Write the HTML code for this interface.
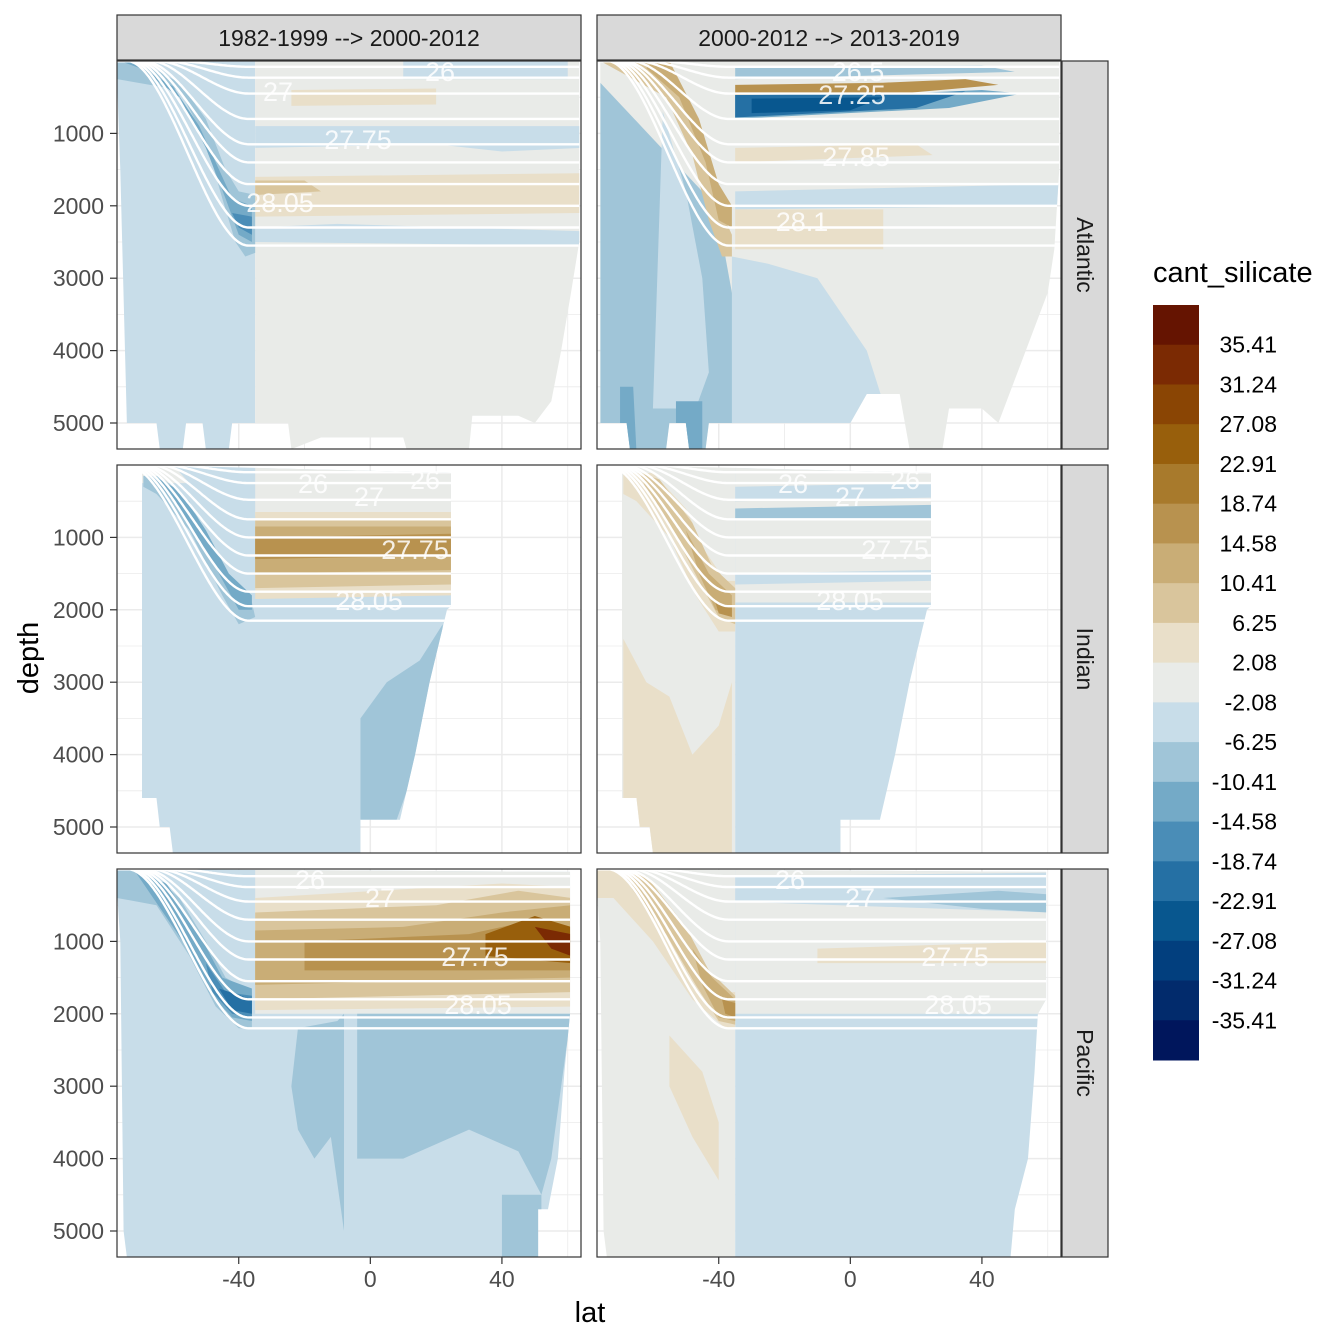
<!DOCTYPE html>
<html><head><meta charset="utf-8"><style>
html,body{margin:0;padding:0;background:#fff}
svg{display:block;font-family:"Liberation Sans",sans-serif}
</style></head><body>
<svg id="chart" width="1344" height="1344" viewBox="0 0 1344 1344"></svg>
<script>
const legendColors=["#651401","#7b2a03","#8a4504","#985f0c","#a87a2c","#b8924f","#c9ad76","#d9c59c","#e9dfc9","#e9ebe8","#c8dde9","#a0c5d8","#74aac7","#4a8db7","#2570a4","#08578f","#023f7e","#022b6c","#00165c"];
const legendLabels=["35.41","31.24","27.08","22.91","18.74","14.58","10.41","6.25","2.08","-2.08","-6.25","-10.41","-14.58","-18.74","-22.91","-27.08","-31.24","-35.41"];
const latTicks=[-40,0,40];
const depthTicks=[1000,2000,3000,4000,5000];
const colTitles=["1982-1999 --> 2000-2012","2000-2012 --> 2013-2019"];
const rowTitles=["Atlantic","Indian","Pacific"];
const bathyAtl=[[-77,250],[-76,1500],[-74,5000],[-65,5000],[-64,5360],[-57,5360],[-56,5000],[-51,5000],[-50,5360],[-43,5360],[-42,5000],[-25,5000],[-24,5360],[-15,5200],[10,5200],[11,5360],[30,5360],[31,4900],[45,4900],[50,5000],[55,4700],[58,4000],[61,3200],[63.5,2500],[63.5,0]];
const bathyAtl2=[[-76,200],[-76,5000],[-68,5000],[-67,5360],[-56,5360],[-55,5000],[-50,5000],[-49,5360],[-44,5360],[-43,5000],[0,5000],[5,4600],[15,4600],[18,5360],[28,5360],[30,4800],[40,4800],[45,5000],[50,4400],[55,3800],[60,3200],[62,2600],[63.5,1500],[63.5,0]];
const bathyInd=[[-69.4,110],[-69.4,4600],[-65,4600],[-64,5000],[-61,5000],[-60,5360],[-3,5360],[-3,4900],[9,4900],[13.6,4000],[18,3000],[23.3,2000],[24.5,1950],[24.5,110]];
const bathyPac=[[-77,40],[-77,300],[-76,1000],[-75,5000],[-74,5360],[51,5360],[51,4700],[54,4700],[57,4000],[59,2800],[60.7,2000],[60.7,40]];
const bathyPac2=[[-77,40],[-77,300],[-76,1000],[-75,5000],[-74,5360],[48.7,5360],[50,4700],[54,4000],[56,2800],[57,2000],[59.5,1800],[59.5,40]];
const regionsP1=[[-1,[[-77,0],[-35,0],[-35,5400],[-77,5400]]],[0,[[-35,0],[64,0],[64,5400],[-35,5400]]],
[-1,[[10,0],[60,0],[60,250],[10,250]]],
[-1,[[-35,900],[64,900],[64,1200],[40,1250],[20,1150],[-35,1200]]],
[-1,[[-35,2300],[-10,2250],[64,2350],[64,2550],[-35,2500]]],
[1,[[-35,1600],[64,1550],[64,2100],[-35,2150]]],
[2,[[-35,1650],[-20,1650],[-15,1800],[-35,1850]]],
[1,[[-24,400],[20,380],[20,600],[-24,620]]],
[-2,[[-77,0],[-70,0],[-58,300],[-50,800],[-44,1500],[-40,1800],[-35,1850],[-35,2650],[-38,2700],[-41,2500],[-45,1900],[-50,1100],[-58,400],[-77,250]]],
[-3,[[-76,0],[-73,0],[-60,350],[-52,900],[-46,1500],[-42,1900],[-36,2000],[-36,2500],[-40,2400],[-44,1900],[-50,1200],[-58,500],[-70,100]]],
[-4,[[-45,1800],[-42,2100],[-36,2150],[-36,2400],[-40,2300]]]];
const regionsP2=[[0,[[-77,0],[64,0],[64,5400],[-77,5400]]],
[-2,[[-76,300],[-45,1800],[-38,2700],[-36,3200],[-30,4800],[-28,5400],[-76,5400]]],
[-1,[[-36,2700],[-25,2800],[-10,3000],[5,4000],[12,5000],[15,5400],[-36,5400]]],
[-1,[[-60,4800],[-57,700],[-50,1800],[-45,3000],[-43,4300],[-47,4800]]],
[-3,[[-70,4500],[-66,4500],[-65,5400],[-70,5400]]],[-3,[[-53,4700],[-45,4700],[-45,5400],[-53,5400]]],
[2,[[-76,0],[-62,0],[-50,500],[-44,1200],[-40,2000],[-36,2400],[-36,2700],[-39,2700],[-43,2200],[-48,1300],[-56,500],[-70,150]]],
[3,[[-60,0],[-55,0],[-46,800],[-40,1700],[-36,2000],[-36,2300],[-40,2200],[-44,1400],[-52,500],[-62,100]]],
[-2,[[-35,80],[40,60],[50,150],[-35,250]]],
[4,[[-35,330],[10,300],[35,250],[45,330],[15,450],[-35,470]]],
[-3,[[-35,470],[15,450],[40,400],[52,450],[30,650],[-35,800]]],
[-5,[[-35,470],[15,450],[35,420],[20,650],[-35,780]]],
[-6,[[-30,520],[10,500],[0,680],[-30,720]]],
[1,[[-35,1200],[20,1150],[25,1300],[-35,1400]]],
[-1,[[-35,1800],[64,1700],[64,2000],[-35,2050]]],
[1,[[-35,2050],[10,2050],[10,2600],[-35,2600]]]];
const regionsP3=[[-1,[[-77,0],[64,0],[64,5400],[-77,5400]]],
[0,[[-35,0],[30,0],[30,700],[-35,700]]],[0,[[-70,0],[-60,0],[-55,250],[-70,250]]],
[-2,[[-69,150],[-64,150],[-55,500],[-47,1200],[-42,1600],[-36,1900],[-35,2100],[-40,2200],[-45,1800],[-55,900],[-65,400],[-69,300]]],
[-3,[[-66,150],[-58,350],[-50,900],[-43,1500],[-36,1800],[-36,2000],[-40,2000],[-46,1500],[-55,800]]],
[1,[[-35,650],[25,650],[25,1800],[-35,1850]]],[2,[[-35,750],[25,750],[25,1650],[-35,1700]]],
[3,[[-35,850],[25,850],[25,1450],[-35,1500]]],[4,[[-35,1000],[25,950],[25,1250],[-35,1300]]],
[-2,[[-3,4900],[-3,3500],[5,3000],[15,2700],[22,2200],[22,3000],[15,4000],[8,4900]]]];
const regionsP4=[[0,[[-77,0],[-35,0],[-35,5400],[-77,5400]]],[-1,[[-35,0],[64,0],[64,5400],[-35,5400]]],
[0,[[-35,0],[30,0],[30,1900],[-35,1900]]],
[1,[[-69,2400],[-62,3000],[-55,3200],[-48,4000],[-40,3600],[-36,3000],[-36,5400],[-69,5400]]],
[1,[[-69,110],[-60,110],[-50,600],[-44,1200],[-38,1600],[-35,1600],[-35,2300],[-40,2300],[-47,1800],[-55,1000],[-65,500],[-69,400]]],
[2,[[-64,110],[-58,200],[-48,800],[-42,1400],[-35,1700],[-35,2200],[-40,2100],[-46,1600],[-54,900],[-62,350]]],
[3,[[-50,900],[-43,1500],[-36,1800],[-36,2100],[-41,2000],[-46,1500]]],
[4,[[-41,1900],[-36,1950],[-36,2100],[-40,2050]]],
[-1,[[-35,300],[25,250],[25,450],[-35,500]]],[-2,[[-35,600],[25,550],[25,750],[-35,750]]],
[-1,[[-35,1500],[25,1450],[25,1600],[-35,1650]]]];
const regionsP5=[[-1,[[-77,0],[64,0],[64,5400],[-77,5400]]],
[0,[[-35,0],[61,0],[61,2000],[-35,2000]]],
[-2,[[-22,2200],[-10,2100],[-8,2000],[-8,5000],[-12,3700],[-17,4000],[-22,3600],[-24,3000]]],
[-2,[[-4,2000],[61,2000],[58,3000],[55,4000],[52,4500],[45,3900],[30,3600],[10,4000],[-4,4000]]],
[-2,[[40,4500],[52,4500],[52,5400],[40,5400]]],
[-2,[[-77,0],[-68,0],[-58,400],[-50,1000],[-44,1500],[-36,1700],[-36,2200],[-40,2200],[-47,1900],[-55,1200],[-65,500],[-77,400]]],
[-3,[[-72,0],[-62,200],[-52,900],[-45,1500],[-36,1650],[-36,2100],[-42,2050],[-49,1700],[-57,1000],[-66,400]]],
[-4,[[-50,1300],[-44,1700],[-36,1750],[-36,2050],[-42,2000],[-48,1700]]],
[-5,[[-46,1650],[-36,1800],[-36,2000],[-42,1950]]],
[1,[[-35,400],[40,200],[61,250],[61,1900],[-35,1950]]],
[2,[[-35,600],[20,500],[45,300],[61,400],[61,1700],[-35,1800]]],
[3,[[-35,850],[10,800],[40,600],[61,500],[61,1500],[-35,1600]]],
[4,[[-20,1000],[30,900],[50,700],[61,800],[61,1400],[-20,1400]]],
[6,[[35,900],[50,650],[61,800],[61,1300],[35,1200]]],
[8,[[50,800],[61,900],[61,1200],[55,1100]]]];
const regionsP6=[[0,[[-77,0],[-35,0],[-35,5400],[-77,5400]]],[-1,[[-35,0],[64,0],[64,5400],[-35,5400]]],
[0,[[-35,0],[60,0],[60,2000],[-35,2000]]],
[1,[[-55,2300],[-45,2800],[-40,3500],[-40,4300],[-48,3700],[-55,3000]]],
[1,[[-77,0],[-66,0],[-52,700],[-45,1300],[-38,1700],[-35,1700],[-35,2200],[-38,2200],[-48,1800],[-60,1000],[-72,400],[-77,400]]],
[2,[[-70,0],[-62,100],[-50,800],[-43,1400],[-35,1750],[-35,2150],[-40,2100],[-47,1600],[-56,900],[-66,300]]],
[3,[[-48,1100],[-42,1500],[-35,1800],[-35,2100],[-40,2050],[-45,1600]]],
[4,[[-39,1800],[-35,1850],[-35,2050],[-38,2000]]],
[-1,[[-35,100],[60,50],[60,600],[-35,450]]],
[-2,[[10,400],[45,300],[60,350],[60,600],[40,550]]],
[1,[[-10,1100],[60,1000],[60,1300],[-10,1300]]]];
const isoDepthAtl=[80,230,450,800,1150,1400,1700,2000,2300,2550];
const isoDepthInd=[100,250,480,750,1000,1250,1500,1750,1950,2150];
const isoDepthPac=[100,250,450,700,1000,1250,1550,1800,2050,2200];
const isoOutcrop=[-60,-63,-65,-67,-69,-70,-71,-72,-73,-74];

const NS="http://www.w3.org/2000/svg";
const svg=document.getElementById('chart');
function mk(tag,attrs,parent){const e=document.createElementNS(NS,tag);for(const k in attrs)e.setAttribute(k,attrs[k]);(parent||svg).appendChild(e);return e;}
const colX=[117,597], rowY=[61,465,869], PW=464, PH=388;
function xs(c,lat){return colX[c]+(lat+77)*3.29;}
function ys(r,d){return rowY[r]+d*0.0724;}
function colorOf(level){return legendColors[9-level];}
const panels=[
 {r:0,c:0,bathy:bathyAtl,reg:regionsP1,iso:isoDepthAtl},
 {r:0,c:1,bathy:bathyAtl2,reg:regionsP2,iso:isoDepthAtl},
 {r:1,c:0,bathy:bathyInd,reg:regionsP3,iso:isoDepthInd},
 {r:1,c:1,bathy:bathyInd,reg:regionsP4,iso:isoDepthInd},
 {r:2,c:0,bathy:bathyPac,reg:regionsP5,iso:isoDepthPac},
 {r:2,c:1,bathy:bathyPac2,reg:regionsP6,iso:isoDepthPac}];
const labels=[
 [[440,72,"26"],[278,92,"27"],[358,140,"27.75"],[280,203,"28.05"]],
 [[858,72,"26.5"],[852,95,"27.25"],[856,157,"27.85"],[802,222,"28.1"]],
 [[313,484,"26"],[369,497,"27"],[425,480,"26"],[415,550,"27.75"],[369,601,"28.05"]],
 [[793,484,"26"],[850,497,"27"],[905,480,"26"],[895,550,"27.75"],[850,601,"28.05"]],
 [[310,880,"26"],[380,898,"27"],[475,957,"27.75"],[478,1005,"28.05"]],
 [[790,880,"26"],[860,898,"27"],[955,957,"27.75"],[958,1005,"28.05"]]];
const defs=mk('defs',{});
panels.forEach((p,i)=>{
 const g=mk('g',{});
 
 
 const x0=colX[p.c],y0=rowY[p.r];
 mk('rect',{x:x0,y:y0,width:PW,height:PH,fill:'#fff'},g);
 for(let lat=-60;lat<=60;lat+=20){const x=xs(p.c,lat);if(x>x0&&x<x0+PW)mk('line',{x1:x,x2:x,y1:y0,y2:y0+PH,stroke:'#ebebeb','stroke-width':lat%40===0?1.5:0.8},g);}
 for(let d=500;d<=5000;d+=500){const y=ys(p.r,d);mk('line',{x1:x0,x2:x0+PW,y1:y,y2:y,stroke:'#ebebeb','stroke-width':d%1000===0?1.5:0.8},g);}
 const cp=mk('clipPath',{id:'cp'+i},defs);
 const pts=[[p.bathy[0][0],0]].concat(p.bathy).map(q=>xs(p.c,q[0])+','+ys(p.r,q[1])).join(' ');
 mk('polygon',{points:pts},cp);
 const cg=mk('g',{'clip-path':'url(#cp'+i+')'},g);
 p.reg.forEach((rg,j)=>{
  const poly=mk('polygon',{points:rg[1].map(q=>xs(p.c,q[0])+','+ys(p.r,q[1])).join(' '),fill:colorOf(rg[0])},cg);
  
  
 });
 const lg=mk('g',{'clip-path':'url(#cp'+i+')'},g);
 p.iso.forEach((D,k)=>{
  const out=isoOutcrop[k];let d='';
  for(let lat=-77;lat<=64;lat+=0.5){
   let dep;if(lat<=out)dep=0;else if(lat>=-37)dep=D;else{const t=(lat-out)/(-37-out);dep=D*(t*t*(3-2*t));}
   d+=(d?'L':'M')+xs(p.c,lat).toFixed(1)+','+ys(p.r,dep).toFixed(1);
  }
  const path=mk('path',{d:d,fill:'none',stroke:'#fff','stroke-width':2.4},lg);
  
  
 });
 labels[i].forEach(l=>{const t=mk('text',{x:l[0],y:l[1]+9,'text-anchor':'middle','font-size':27,fill:'#fff','fill-opacity':0.85},g);t.textContent=l[2];
  });
 mk('rect',{x:x0,y:y0,width:PW,height:PH,fill:'none',stroke:'#333','stroke-width':1.2},g);
});
colTitles.forEach((t,c)=>{
 const r=mk('rect',{x:colX[c],y:15,width:PW,height:45,fill:'#d9d9d9',stroke:'#333','stroke-width':1.2});
 
 const tx=mk('text',{x:colX[c]+PW/2,y:46,'text-anchor':'middle','font-size':23,fill:'#1a1a1a'});tx.textContent=t;
 
});
rowTitles.forEach((t,r)=>{
 const rc=mk('rect',{x:1062,y:rowY[r],width:46,height:PH,fill:'#d9d9d9',stroke:'#333','stroke-width':1.2});
 
 const cy=rowY[r]+PH/2;
 const tx=mk('text',{x:1077,y:cy,'text-anchor':'middle','font-size':23,fill:'#1a1a1a',transform:'rotate(90 1077 '+cy+')'});tx.textContent=t;
 
});
rowY.forEach((y0,r)=>{depthTicks.forEach(d=>{const y=ys(r,d);
 mk('line',{x1:110,x2:117,y1:y,y2:y,stroke:'#333','stroke-width':1.2});
 const t=mk('text',{x:104,y:y+8,'text-anchor':'end','font-size':23,fill:'#4d4d4d'});t.textContent=d;
 });});
colX.forEach((x0,c)=>{latTicks.forEach(l=>{const x=xs(c,l);
 mk('line',{x1:x,x2:x,y1:1257,y2:1264,stroke:'#333','stroke-width':1.2});
 const t=mk('text',{x:x,y:1287,'text-anchor':'middle','font-size':23,fill:'#4d4d4d'});t.textContent=l;
 });});
let t=mk('text',{x:590,y:1322,'text-anchor':'middle','font-size':29,fill:'#000'});t.textContent='lat';

t=mk('text',{x:38,y:658,'text-anchor':'middle','font-size':29,fill:'#000',transform:'rotate(-90 38 658)'});t.textContent='depth';

t=mk('text',{x:1153,y:282,'font-size':29,fill:'#000'});t.textContent='cant_silicate';

const bh=755/legendColors.length;
legendColors.forEach((c,i)=>{const r=mk('rect',{x:1153,y:305+i*bh,width:46,height:bh+0.5,fill:c});
 });
legendLabels.forEach((l,i)=>{const y=305+(i+1)*bh;
 const tx=mk('text',{x:1277,y:y+8,'text-anchor':'end','font-size':23,fill:'#000'});tx.textContent=l;
 });
</script>
</body></html>
